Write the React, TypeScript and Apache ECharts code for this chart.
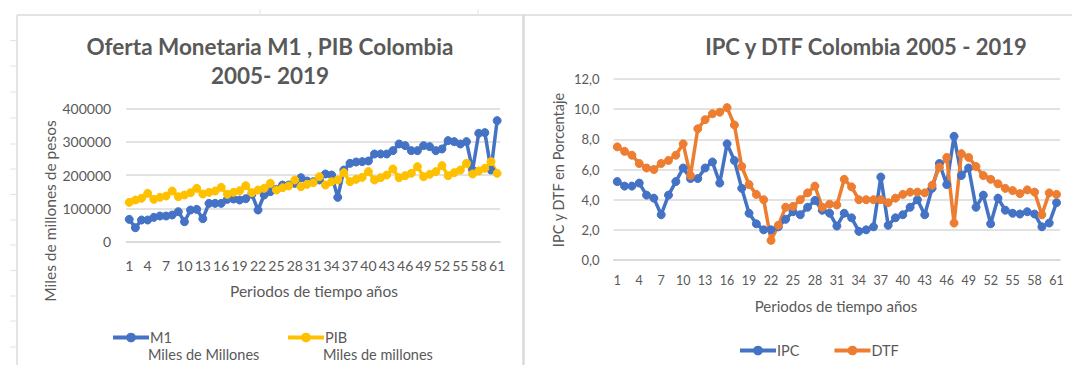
import React, { useEffect, useRef } from "react";
import * as echarts from "echarts";

const periods: string[] = Array.from({ length: 61 }, (_, i) => String(i + 1));

const m1: number[] = [
  67000, 42000, 65000, 65000, 73000, 77000, 77000, 80000, 90000, 60000,
  95000, 97000, 69000, 115000, 115000, 115000, 127000, 128000, 125000, 129000,
  142000, 95000, 140000, 150000, 157000, 170000, 170000, 175000, 192000, 182000,
  180000, 185000, 203000, 200000, 133000, 215000, 235000, 239000, 240000, 242000,
  263000, 263000, 263000, 273000, 293000, 288000, 273000, 273000, 288000, 285000,
  273000, 278000, 303000, 300000, 293000, 300000, 215000, 325000, 327000, 215000,
  363000,
];

const pib: number[] = [
  118000, 125000, 130000, 145000, 127000, 133000, 137000, 152000, 135000, 140000,
  147000, 160000, 143000, 148000, 152000, 163000, 142000, 148000, 153000, 168000,
  147000, 155000, 160000, 175000, 155000, 162000, 167000, 185000, 165000, 172000,
  177000, 195000, 170000, 180000, 185000, 207000, 180000, 187000, 193000, 210000,
  185000, 192000, 200000, 218000, 192000, 198000, 205000, 225000, 195000, 202000,
  210000, 228000, 198000, 207000, 215000, 235000, 203000, 212000, 220000, 240000,
  205000,
];

const ipc: number[] = [
  5.2, 4.9, 4.9, 5.1, 4.3, 4.1, 3.0, 4.3, 5.2, 6.1,
  5.4, 5.4, 6.1, 6.5, 5.1, 7.7, 6.6, 4.75, 3.1, 2.4,
  2.0, 2.0, 2.2, 2.7, 3.2, 3.0, 3.5, 3.95, 3.3, 3.1,
  2.25, 3.1, 2.8, 1.9, 2.0, 2.2, 5.5, 2.3, 2.8, 3.0,
  3.5, 4.0, 3.0, 4.75, 6.4, 5.0, 8.2, 5.6, 6.1, 3.5,
  4.3, 2.4, 4.1, 3.3, 3.1, 3.05, 3.2, 3.05, 2.2, 2.45,
  3.8,
];

const dtf: number[] = [
  7.5, 7.2, 6.95, 6.4, 6.1, 6.0, 6.4, 6.6, 6.95, 7.7,
  5.6, 8.7, 9.3, 9.7, 9.8, 10.1, 8.95, 6.2, 5.0, 4.35,
  4.0, 1.3, 2.3, 3.5, 3.55, 4.0, 4.45, 4.9, 3.5, 3.7,
  3.65, 5.35, 4.85, 4.0, 4.0, 4.0, 4.0, 3.8, 4.1, 4.35,
  4.5, 4.5, 4.45, 4.95, 6.15, 6.8, 2.45, 7.05, 6.8, 6.2,
  5.6, 5.35, 5.05, 4.75, 4.6, 4.4, 4.65, 4.5, 3.0, 4.45,
  4.35,
];

const leftYTicks = { min: 0, max: 400000, interval: 100000 };
const rightYTicks = { min: 0, max: 12, interval: 2 };

const TXT = "#595959";
const GRID = "#D9D9D9";
const FONT = "Lato, 'Open Sans', sans-serif";
const BLUE = "#4472C4";
const YELLOW = "#FFC000";
const ORANGE = "#ED7D31";

function lineSeries(name: string, data: number[], color: string, idx: number) {
  return {
    name,
    type: "line",
    data,
    xAxisIndex: idx,
    yAxisIndex: idx,
    symbol: "circle",
    symbolSize: 8,
    showAllSymbol: true,
    lineStyle: { color, width: 3.5 },
    itemStyle: { color, borderColor: color },
    emphasis: { disabled: true },
  };
}

export default function App() {
  const ref = useRef<HTMLDivElement>(null);
  useEffect(() => {
    document.body.style.margin = "0";
    const chart = echarts.init(ref.current!, null, { renderer: "svg" });
    const rowMarks = [40.6, 66, 92, 118, 144, 169, 194.5, 220, 245, 270.6, 296, 321, 347];
    const graphics: any[] = [
      { type: "line", shape: { x1: 17, y1: 15, x2: 1072, y2: 15 }, style: { stroke: "#DADADA", lineWidth: 1.5 } },
      { type: "line", shape: { x1: 17, y1: 15, x2: 17, y2: 365 }, style: { stroke: "#DADADA", lineWidth: 1.5 } },
      { type: "line", shape: { x1: 523.5, y1: 15, x2: 523.5, y2: 365 }, style: { stroke: "#DADADA", lineWidth: 2.5 } },
      { type: "line", shape: { x1: 260, y1: 9, x2: 260, y2: 15 }, style: { stroke: "#E3E3E3", lineWidth: 1 } },
      { type: "line", shape: { x1: 478, y1: 9, x2: 478, y2: 15 }, style: { stroke: "#E3E3E3", lineWidth: 1 } },
      ...rowMarks.map((y) => ({
        type: "line",
        shape: { x1: 10, y1: y, x2: 17, y2: y },
        style: { stroke: "#E3E3E3", lineWidth: 1 },
      })),
      {
        type: "text", x: 270, y: 46,
        style: { text: "Oferta Monetaria M1 , PIB Colombia", font: `bold 22.5px ${FONT}`, fill: TXT, align: "center", verticalAlign: "middle" },
      },
      {
        type: "text", x: 270, y: 75,
        style: { text: "2005- 2019", font: `bold 22.5px ${FONT}`, fill: TXT, align: "center", verticalAlign: "middle" },
      },
      {
        type: "text", x: 866, y: 46,
        style: { text: "IPC y DTF Colombia 2005 - 2019", font: `bold 22px ${FONT}`, fill: TXT, align: "center", verticalAlign: "middle" },
      },
      {
        type: "text", x: 50, y: 211, rotation: Math.PI / 2,
        style: { text: "Miles de millones de pesos", font: `15.5px ${FONT}`, fill: TXT, align: "center", verticalAlign: "middle" },
      },
      {
        type: "text", x: 314, y: 291,
        style: { text: "Periodos de tiempo años", font: `15.5px ${FONT}`, fill: TXT, align: "center", verticalAlign: "middle" },
      },
      {
        type: "text", x: 558, y: 170, rotation: Math.PI / 2,
        style: { text: "IPC y DTF en Porcentaje", font: `14.5px ${FONT}`, fill: TXT, align: "center", verticalAlign: "middle" },
      },
      {
        type: "text", x: 836, y: 306,
        style: { text: "Periodos de tiempo años", font: `15px ${FONT}`, fill: TXT, align: "center", verticalAlign: "middle" },
      },
      {
        type: "text", x: 148, y: 354,
        style: { text: "Miles de Millones", font: `14.5px ${FONT}`, fill: TXT, align: "left", verticalAlign: "middle" },
      },
      {
        type: "text", x: 323, y: 354,
        style: { text: "Miles de millones", font: `14.5px ${FONT}`, fill: TXT, align: "left", verticalAlign: "middle" },
      },
    ];

    const legendBase = {
      orient: "horizontal",
      itemWidth: 36,
      itemHeight: 12,
      lineStyle: { width: 4 },
      textStyle: { color: TXT, fontSize: 14.5, fontFamily: FONT, padding: [0, 0, 0, -4] },
      padding: 0,
      selectedMode: false,
    };

    chart.setOption({
      animation: false,
      textStyle: { fontFamily: FONT },
      grid: [
        { left: 126.2, top: 108.3, width: 374, height: 133.4, containLabel: false },
        { left: 613.6, top: 79, width: 446.6, height: 181, containLabel: false },
      ],
      legend: [
        { ...legendBase, data: ["M1"], left: 111, top: 330 },
        { ...legendBase, data: ["PIB"], left: 286, top: 330 },
        { ...legendBase, data: ["IPC", "DTF"], left: 738, top: 343, itemGap: 33 },
      ],
      xAxis: [0, 1].map((i) => ({
        type: "category",
        gridIndex: i,
        data: periods,
        boundaryGap: true,
        axisTick: { show: false },
        axisLine: { show: true, lineStyle: { color: GRID, width: 1.5 } },
        axisLabel: {
          interval: 2,
          color: TXT,
          fontSize: i === 0 ? 14 : 12.5,
          fontFamily: FONT,
          margin: i === 0 ? 17 : 14,
        },
      })),
      yAxis: [
        {
          type: "value",
          gridIndex: 0,
          ...leftYTicks,
          axisLine: { show: false },
          axisTick: { show: false },
          splitLine: { lineStyle: { color: GRID, width: 1.5 } },
          axisLabel: {
            color: TXT,
            fontSize: 14,
            fontFamily: FONT,
            margin: 15,
            formatter: (v: number) => String(v),
          },
        },
        {
          type: "value",
          gridIndex: 1,
          ...rightYTicks,
          axisLine: { show: false },
          axisTick: { show: false },
          splitLine: { lineStyle: { color: GRID, width: 1.5 } },
          axisLabel: {
            color: TXT,
            fontSize: 13,
            fontFamily: FONT,
            margin: 14,
            formatter: (v: number) => v.toFixed(1).replace(".", ","),
          },
        },
      ],
      series: [
        lineSeries("M1", m1, BLUE, 0),
        lineSeries("PIB", pib, YELLOW, 0),
        lineSeries("IPC", ipc, BLUE, 1),
        lineSeries("DTF", dtf, ORANGE, 1),
      ],
      graphic: graphics,
    });
    return () => chart.dispose();
  }, []);
  return <div ref={ref} style={{ width: 1072, height: 365 }} />;
}
